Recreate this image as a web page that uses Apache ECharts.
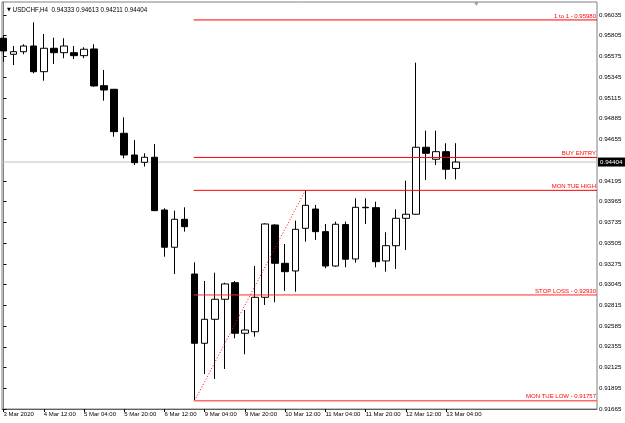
<!DOCTYPE html>
<html><head><meta charset="utf-8">
<script src="https://cdn.jsdelivr.net/npm/echarts@6/dist/echarts.min.js"></script>
<style>html,body{margin:0;padding:0;background:#fff}#c{width:625px;height:423px}</style>
</head><body><div id="c"></div>
<script>
const symbolName = 'USDCHF,H4';
const timeLabels = ['3 Mar 2020','4 Mar 12:00','5 Mar 04:00','5 Mar 20:00','6 Mar 12:00','9 Mar 04:00','9 Mar 20:00','10 Mar 12:00','11 Mar 04:00','11 Mar 20:00','12 Mar 12:00','13 Mar 04:00'];
const timeLabelIdx = [0,4,8,12,16,20,24,28,32,36,40,44];
const opens  = [0.95777,0.95599,0.95628,0.95691,0.95406,0.95666,0.95617,0.95617,0.95584,0.95658,0.95251,0.95211,0.94723,0.94482,0.94401,0.94457,0.93872,0.93459,0.93769,0.93162,0.92394,0.92660,0.92882,0.93066,0.92505,0.92522,0.92904,0.93706,0.93281,0.93196,0.93669,0.93883,0.93632,0.93251,0.93710,0.93329,0.93902,0.93898,0.93307,0.93476,0.93780,0.93825,0.94568,0.94435,0.94519,0.94333];
const highs  = [0.95813,0.95691,0.95710,0.95954,0.95824,0.95783,0.95777,0.95691,0.95677,0.95710,0.95425,0.95214,0.94900,0.94649,0.94501,0.94604,0.93891,0.93865,0.93902,0.93292,0.93085,0.93177,0.93066,0.93085,0.92763,0.93251,0.93725,0.93714,0.93495,0.93754,0.94090,0.93928,0.93717,0.93743,0.93743,0.94002,0.94002,0.93964,0.93625,0.93880,0.94197,0.95506,0.94752,0.94752,0.94612,0.94613];
const lows   = [0.95517,0.95480,0.95599,0.95388,0.95306,0.95492,0.95555,0.95547,0.95555,0.95240,0.95085,0.94685,0.94446,0.94371,0.94353,0.93860,0.93354,0.93162,0.93632,0.91757,0.92053,0.91998,0.92109,0.92449,0.92272,0.92467,0.92819,0.92849,0.92974,0.92966,0.93521,0.93540,0.93226,0.93243,0.93237,0.93288,0.93717,0.93237,0.93188,0.93218,0.93429,0.93820,0.94205,0.94371,0.94213,0.94211];
const closes = [0.95636,0.95628,0.95691,0.95406,0.95666,0.95617,0.95691,0.95584,0.95655,0.95248,0.95203,0.94741,0.94482,0.94397,0.94457,0.93865,0.93459,0.93769,0.93687,0.92394,0.92660,0.92882,0.93052,0.92505,0.92541,0.92904,0.93717,0.93281,0.93188,0.93658,0.93924,0.93632,0.93251,0.93714,0.93326,0.93902,0.93897,0.93299,0.93476,0.93780,0.93825,0.94568,0.94501,0.94519,0.94324,0.94404];
const priceTicks = [0.96035,0.95805,0.95575,0.95345,0.95115,0.94885,0.94655,0.94195,0.93965,0.93735,0.93505,0.93275,0.93045,0.92815,0.92585,0.92355,0.92125,0.91895,0.91665];
const levelNames  = ['1 to 1 - 0.95980','BUY ENTRY','MON TUE HIGH','STOP LOSS - 0.92930','MON TUE LOW - 0.91757'];
const levelValues = [0.95980,0.94455,0.94090,0.92930,0.91757];
const levelColors = ['#ff0000','#ff0000','#ff0000','#ff2a2a','#ff6a6a'];
const levelStartIdx = 19;
const trendFrom = [19, 0.91757];
const trendTo   = [30, 0.94090];
const shiftMarkIdx = 47;

const X_MIN = -0.15, X_MAX = 58.99, Y_MIN = 0.91665, Y_MAX = 0.96179;
const FONT = 'Liberation Sans';

const candleData = opens.map((o, i) => [i, o, closes[i], lows[i], highs[i]]);
const last = opens.length - 1;
const fmt = v => v.toFixed(5);

const levelSeries = levelValues.map((v, k) => ({
  type: 'line', silent: true, z: 3, symbol: 'none', color: levelColors[k],
  data: [[levelStartIdx - 0.1, v], [X_MAX, v]],
  lineStyle: {color: levelColors[k], width: k === 4 ? 1.6 : 1, type: 'solid'},
  emphasis: {disabled: true},
  endLabel: {show: true, formatter: levelNames[k], align: 'right', verticalAlign: 'bottom', distance: -1, offset: [0, -1],
             color: '#ff0000', fontFamily: FONT, fontSize: 6}
}));

const priceSeries = {
  type: 'line', silent: true, z: 1, symbol: 'none', color: '#c0c0c0',
  data: [[X_MIN, closes[last]], [X_MAX, closes[last]]],
  lineStyle: {color: '#c0c0c0', width: 1, type: 'solid'},
  emphasis: {disabled: true},
  endLabel: {show: true, formatter: fmt(closes[last]), distance: 1, color: '#fff', backgroundColor: '#000',
             padding: [2, 3, 1, 2], fontFamily: FONT, fontSize: 6.2}
};

const chart = echarts.init(document.getElementById('c'), null, {renderer: 'canvas'});
chart.setOption({
  animation: false,
  backgroundColor: '#fff',
  title: {
    left: 2, top: 2,
    text: '{t|▼} ' + symbolName + '  ' + [opens[last], highs[last], lows[last], closes[last]].map(fmt).join(' '),
    textStyle: {
      fontFamily: FONT, fontSize: 6.3, fontWeight: 'normal', color: '#000',
      rich: {t: {fontSize: 5, color: '#000', fontFamily: 'DejaVu Sans'}}
    }
  },
  grid: {left: 2, right: 28, top: 2, bottom: 14, show: true, borderColor: '#808080', borderWidth: 1, backgroundColor: '#fff'},
  xAxis: {
    type: 'value', min: X_MIN, max: X_MAX,
    splitLine: {show: false},
    axisLine: {show: true, lineStyle: {color: '#606060'}},
    axisTick: {show: true, length: 3, lineStyle: {color: '#000'}, customValues: timeLabelIdx},
    axisLabel: {
      customValues: timeLabelIdx, align: 'left', margin: 2,
      fontFamily: FONT, fontSize: 6, color: '#000',
      formatter: v => timeLabels[timeLabelIdx.indexOf(Math.round(v))] || ''
    }
  },
  yAxis: {
    type: 'value', position: 'right', min: Y_MIN, max: Y_MAX, scale: true,
    splitLine: {show: false},
    axisLine: {show: true, lineStyle: {color: '#808080', width: 1}},
    axisTick: {show: true, length: 3, lineStyle: {color: '#000'}, customValues: priceTicks},
    axisLabel: {customValues: priceTicks, margin: 2, fontFamily: FONT, fontSize: 6.2, color: '#000', formatter: v => fmt(v)}
  },
  series: [
    priceSeries,
    {
      type: 'candlestick', z: 2,
      data: candleData,
      encode: {x: 0, y: [1, 2, 3, 4]},
      barWidth: 7,
      itemStyle: {color: '#ffffff', color0: '#000000', borderColor: '#000000', borderColor0: '#000000', borderColorDoji: '#000000', borderWidth: 1},
      markPoint: {
        silent: true,
        data: [{coord: [shiftMarkIdx, Y_MAX], symbol: 'triangle', symbolRotate: 180, symbolSize: [5, 4], symbolOffset: [0, 2], itemStyle: {color: '#a0a0a0'}, label: {show: false}}]
      }
    },
    {
      type: 'line', z: 3,
      data: [trendFrom, trendTo],
      symbol: 'none',
      silent: true,
      lineStyle: {color: '#ff0000', width: 1, type: [1, 2]}
    }
  ].concat(levelSeries)
});
</script>
</body></html>
